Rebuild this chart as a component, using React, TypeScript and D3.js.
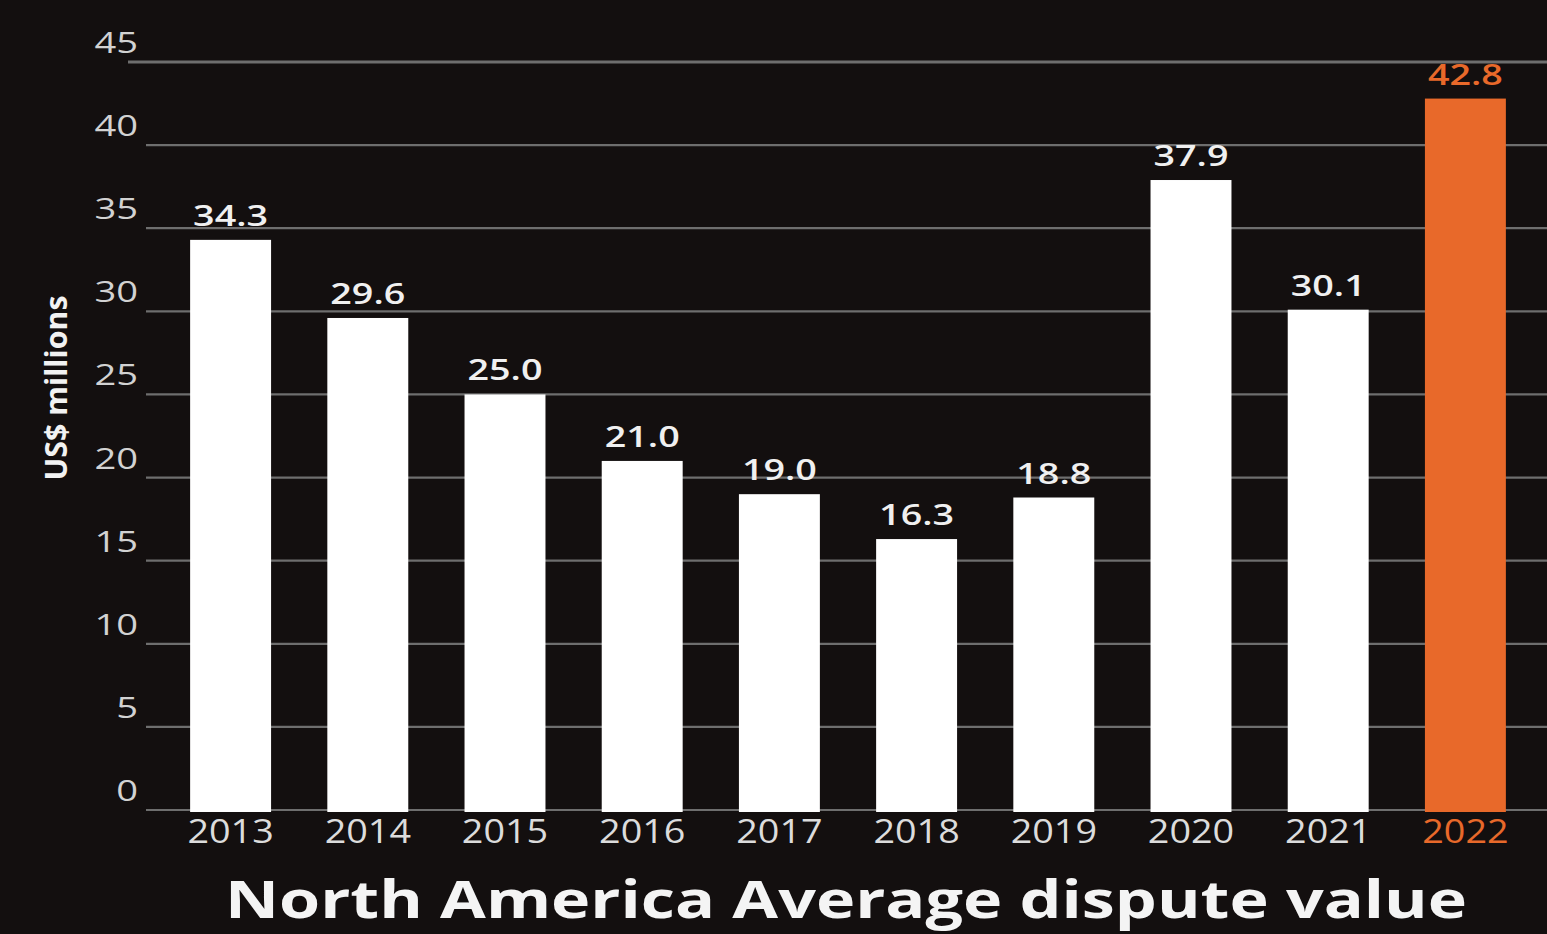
import React, { useEffect } from "react";
import * as d3 from "d3";

const years = ["2013", "2014", "2015", "2016", "2017", "2018", "2019", "2020", "2021", "2022"];
const values = [34.3, 29.6, 25.0, 21.0, 19.0, 16.3, 18.8, 37.9, 30.1, 42.8];
const highlightYear = "2022";
const yTicks = [0, 5, 10, 15, 20, 25, 30, 35, 40, 45];
const title = "North America Average dispute value";
const yTitle = "US$ millions";

const W = 1547;
const H = 934;
const BG = "#130f0f";
const ORANGE = "#e8692a";
const FONT = "'Open Sans', 'Noto Sans', sans-serif";

export default function App() {
  useEffect(() => {
    document.body.style.margin = "0";
    document.body.style.background = BG;
  }, []);

  const x = d3.scaleBand<string>().domain(years).range([162, 1534]).paddingInner(0.41).paddingOuter(0.205);
  const y = d3.scaleLinear().domain([0, 45]).range([810, 62]);

  return (
    <svg width={W} height={H} style={{ position: "absolute", left: 0, top: 0, display: "block" }}>
      <rect x={0} y={0} width={W} height={H} fill={BG} />
      {/* gridlines */}
      {yTicks.map((t) => (
        <line
          key={"g" + t}
          x1={t === 45 ? 128 : 146}
          x2={W}
          y1={y(t)}
          y2={y(t)}
          stroke="#6e6e6e"
          strokeWidth={t === 45 ? 3 : 2.2}
        />
      ))}
      {/* tick labels */}
      {yTicks.map((t) => (
        <text
          key={"t" + t}
          transform={`translate(138,${y(t) - 9}) scale(1.27,1)`}
          textAnchor="end"
          fontFamily={FONT}
          fontSize={30}
          fill="#d2d2d2"
        >
          {t}
        </text>
      ))}
      {/* bars */}
      {years.map((yr, i) => (
        <rect
          key={"b" + yr}
          x={x(yr)}
          y={y(values[i])}
          width={x.bandwidth()}
          height={y(0) - y(values[i]) + 2}
          fill={yr === highlightYear ? ORANGE : "#ffffff"}
        />
      ))}
      {/* value labels */}
      {years.map((yr, i) => (
        <text
          key={"v" + yr}
          transform={`translate(${(x(yr) as number) + x.bandwidth() / 2},${y(values[i]) - 14}) scale(1.3,1)`}
          textAnchor="middle"
          fontFamily={FONT}
          fontWeight={600}
          fontSize={29}
          fill={yr === highlightYear ? ORANGE : "#f0f0f0"}
        >
          {values[i].toFixed(1)}
        </text>
      ))}
      {/* year labels */}
      {years.map((yr) => (
        <text
          key={"y" + yr}
          transform={`translate(${(x(yr) as number) + x.bandwidth() / 2},843) scale(1.18,1)`}
          textAnchor="middle"
          fontFamily={FONT}
          fontSize={32}
          fill={yr === highlightYear ? ORANGE : "#dcdcdc"}
        >
          {yr}
        </text>
      ))}
      {/* y axis title */}
      <text
        transform="translate(67,388) rotate(-90)"
        textAnchor="middle"
        fontFamily={FONT}
        fontWeight={700}
        fontSize={30}
        fill="#f2f2f2"
        textLength={185}
        lengthAdjust="spacingAndGlyphs"
      >
        {yTitle}
      </text>
      {/* title */}
      <text
        x={846}
        y={918}
        textAnchor="middle"
        fontFamily={FONT}
        fontWeight={700}
        fontSize={52}
        fill="#f4f4f4"
        textLength={1242}
        lengthAdjust="spacingAndGlyphs"
      >
        {title}
      </text>
    </svg>
  );
}
